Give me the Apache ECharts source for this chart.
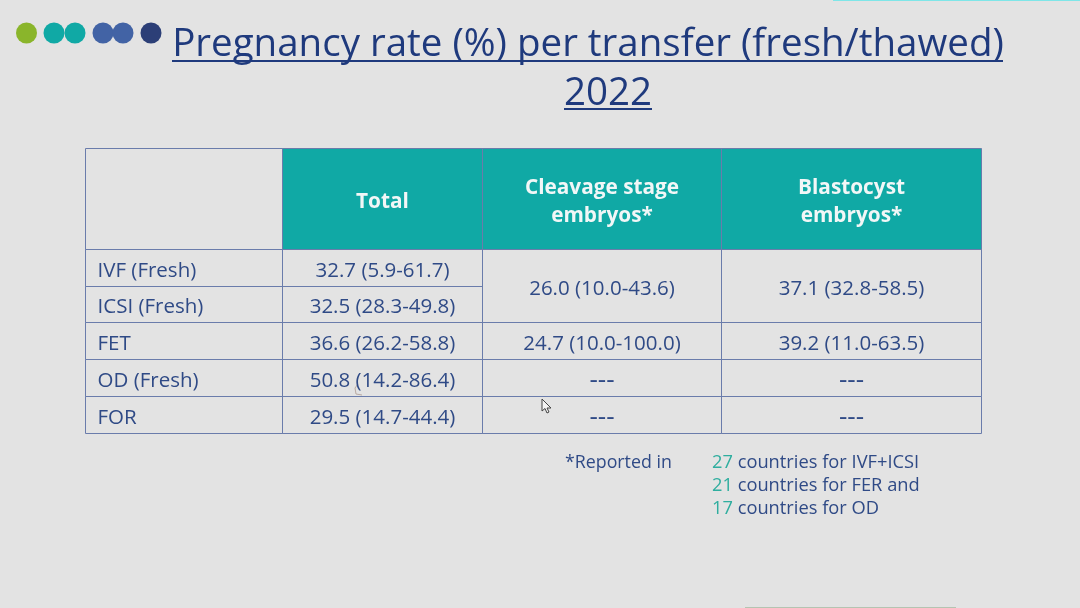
<!DOCTYPE html>
<html>
<head>
<meta charset="utf-8">
<style>html,body{margin:0;padding:0;background:#e3e3e3}#chart{width:1080px;height:608px}</style>
<script src="https://cdn.jsdelivr.net/npm/echarts@6/dist/echarts.min.js"></script>
</head>
<body>
<div id="chart"></div>
<script>
// table content
var headers = ['', 'Total', 'Cleavage stage\nembryos*', 'Blastocyst\nembryos*'];
var rowLabels = ['IVF (Fresh)', 'ICSI (Fresh)', 'FET', 'OD (Fresh)', 'FOR'];
var totals = ['32.7 (5.9-61.7)', '32.5 (28.3-49.8)', '36.6 (26.2-58.8)', '50.8 (14.2-86.4)', '29.5 (14.7-44.4)'];
var cleavage = ['26.0 (10.0-43.6)', null, '24.7 (10.0-100.0)', '---', '---'];
var blastocyst = ['37.1 (32.8-58.5)', null, '39.2 (11.0-63.5)', '---', '---'];
var noteCounts = ['27', '21', '17'];
var noteTexts = ['countries for IVF+ICSI', 'countries for FER and', 'countries for OD'];

// table layout, same units as the hidden axes
var colEdges = [0, 197, 397, 636, 896];
var rowEdges = [0, 101, 138, 174, 211, 248, 285];

var NAVY = '#2f4a86', TEAL = '#10a9a5', LINE = '#6a7cab';
var FONT = '"Open Sans", "Noto Sans", sans-serif';

// [col, row, rowspan, text, kind]
var cells = [];
headers.forEach(function (h, c) {
	cells.push([c, 0, 1, h, c === 0 ? 'blank' : 'head']);
});
rowLabels.forEach(function (label, i) {
	cells.push([0, i + 1, 1, label, 'label']);
	cells.push([1, i + 1, 1, totals[i], 'body']);
	[cleavage, blastocyst].forEach(function (list, k) {
		if (list[i] === null) return;
		cells.push([k + 2, i + 1, list[i + 1] === null ? 2 : 1, list[i], list[i] === '---' ? 'dash' : 'body']);
	});
});

function renderCell(params, api) {
	var c = api.value(0), r = api.value(1), span = api.value(2);
	var kind = cells[params.dataIndex][4];
	var text = cells[params.dataIndex][3];
	var p0 = api.coord([colEdges[c], rowEdges[r]]);
	var p1 = api.coord([colEdges[c + 1], rowEdges[r + span]]);
	var isHead = kind === 'head';
	var font = '20.5px ' + FONT;
	if (isHead) font = 'bold 20.8px ' + FONT;
	if (kind === 'dash') font = '26px ' + FONT;
	return {
		type: 'group',
		children: [{
			type: 'rect',
			shape: { x: p0[0], y: p0[1], width: p1[0] - p0[0], height: p1[1] - p0[1] },
			style: { fill: isHead ? TEAL : 'transparent', stroke: LINE, lineWidth: 1 }
		}, {
			type: 'text',
			style: {
				x: kind === 'label' ? p0[0] + 12 : (p0[0] + p1[0]) / 2,
				y: (p0[1] + p1[1]) / 2 + 3,
				text: text,
				fill: isHead ? '#f2f7f7' : NAVY,
				font: font,
				lineHeight: 28,
				align: kind === 'label' ? 'left' : 'center',
				verticalAlign: 'middle'
			}
		}]
	};
}

var graphics = [
	{ type: 'rect', shape: { x: 833, y: 0, width: 247, height: 1 }, style: { fill: '#7fe6e8' } },
	{ type: 'rect', shape: { x: 745, y: 607, width: 211, height: 1 }, style: { fill: '#b5c4b2' } },
	{ type: 'circle', shape: { cx: 26.5, cy: 33, r: 10.5 }, style: { fill: '#8ab52b' } },
	{ type: 'circle', shape: { cx: 54, cy: 33, r: 10.5 }, style: { fill: TEAL } },
	{ type: 'circle', shape: { cx: 75, cy: 33, r: 10.5 }, style: { fill: TEAL } },
	{ type: 'circle', shape: { cx: 103, cy: 33, r: 10.5 }, style: { fill: '#4263a5' } },
	{ type: 'circle', shape: { cx: 123, cy: 33, r: 10.5 }, style: { fill: '#4263a5' } },
	{ type: 'circle', shape: { cx: 151, cy: 33, r: 10.5 }, style: { fill: '#2c3f77' } },
	{ type: 'text', style: { x: 588, y: 45, text: 'Pregnancy rate (%) per transfer (fresh/thawed)', fill: '#1f3a7d', font: '38.5px ' + FONT, align: 'center', verticalAlign: 'middle' } },
	{ type: 'text', style: { x: 608, y: 94, text: '2022', fill: '#1f3a7d', font: '38.5px ' + FONT, align: 'center', verticalAlign: 'middle' } },
	{ type: 'rect', shape: { x: 172, y: 60, width: 831, height: 2 }, style: { fill: '#1f3a7d' } },
	{ type: 'rect', shape: { x: 564, y: 108, width: 88, height: 2 }, style: { fill: '#1f3a7d' } },
	{ type: 'text', style: { x: 565, y: 463, text: '*Reported in', fill: NAVY, font: '17.8px ' + FONT, verticalAlign: 'middle' } },
	// pen mark and mouse pointer left in the screenshot
	{ type: 'polyline', shape: { points: [[358, 384], [355, 388], [356, 394], [362, 395]] }, style: { fill: 'none', stroke: '#b8a9a2', lineWidth: 1 } },
	{ type: 'polygon', shape: { points: [[542, 399], [542, 411], [545, 408.5], [547, 413], [549, 412], [547, 408], [551, 408]] }, style: { fill: '#f4f4f4', stroke: '#444', lineWidth: 1 } }
];
noteCounts.forEach(function (n, i) {
	graphics.push({
		type: 'text',
		style: {
			x: 712, y: 463 + i * 23,
			text: '{n|' + n + '} {t|' + noteTexts[i] + '}',
			verticalAlign: 'middle',
			font: '18.3px ' + FONT,
			rich: {
				n: { fill: '#2fae9f', font: '18.3px ' + FONT },
				t: { fill: NAVY, font: '18.3px ' + FONT }
			}
		}
	});
});

var myChart = echarts.init(document.getElementById('chart'));
myChart.setOption({
	animation: false,
	backgroundColor: '#e3e3e3',
	grid: { left: 85.5, top: 148.5, width: 896, height: 285 },
	xAxis: { type: 'value', min: 0, max: 896, show: false },
	yAxis: { type: 'value', min: 0, max: 285, inverse: true, show: false },
	series: [{
		type: 'custom',
		coordinateSystem: 'cartesian2d',
		renderItem: renderCell,
		silent: true,
		data: cells.map(function (d) { return [d[0], d[1], d[2]]; })
	}],
	graphic: graphics
});
</script>
</body>
</html>
